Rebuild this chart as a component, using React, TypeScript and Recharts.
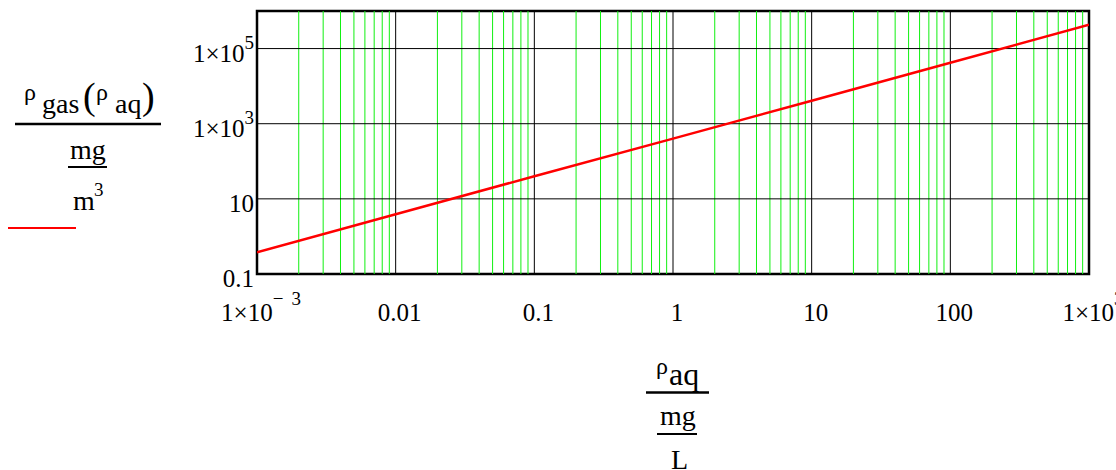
import { LineChart, Line, XAxis, YAxis, ReferenceLine, ReferenceArea } from 'recharts';

// rho_aq [mg/L] vs rho_gas [mg/m^3]
const rhoAq = [0.001, 0.01, 0.1, 1, 10, 100, 1000];
const rhoGas = [0.38, 3.9, 40, 400, 4100, 42000, 430000];

const xTicks = [0.001, 0.01, 0.1, 1, 10, 100, 1000];
const xTickBase = ['1×10', '0.01', '0.1', '1', '10', '100', '1×10'];
const xTickSign = ['−', '', '', '', '', '', ''];
const xTickExp = ['3', '', '', '', '', '', '3'];

const yTicks = [0.1, 10, 1000, 100000];
const yTickBase = ['0.1', '10', '1×10', '1×10'];
const yTickExp = ['', '', '3', '5'];

const xMajor = [0.01, 0.1, 1, 10, 100];
const yMajor = [10, 1000, 100000];
const decades = [0.001, 0.01, 0.1, 1, 10, 100];
const minorSteps = [2, 3, 4, 5, 6, 7, 8, 9];
const xMinor = decades.flatMap((d) => minorSteps.map((m) => d * m));

const data = rhoAq.map((x, i) => ({ x, y: rhoGas[i] }));

const FONT = '"Liberation Serif", "Times New Roman", serif';

function XTick(props: any) {
  const { x, y, payload } = props;
  const i = xTicks.indexOf(payload.value);
  if (i < 0) return null;
  return (
    <text x={x + 4} y={y + 47} textAnchor="middle" fontFamily={FONT} fontSize={25} fill="#000">
      {xTickBase[i]}
      {xTickSign[i] && (
        <tspan dy={-16} fontSize={19}>
          {xTickSign[i]}
        </tspan>
      )}
      {xTickExp[i] && (
        <tspan dy={xTickSign[i] ? 0 : -16} dx={xTickSign[i] ? 8 : 0} fontSize={19}>
          {xTickExp[i]}
        </tspan>
      )}
    </text>
  );
}

function YTick(props: any) {
  const { x, y, payload } = props;
  const i = yTicks.indexOf(payload.value);
  if (i < 0) return null;
  return (
    <text x={x - 3} y={y + 13} textAnchor="end" fontFamily={FONT} fontSize={25} fill="#000">
      {yTickBase[i]}
      {yTickExp[i] && (
        <tspan dy={-13} fontSize={19}>
          {yTickExp[i]}
        </tspan>
      )}
    </text>
  );
}

export default function App() {
  return (
    <div style={{ position: 'absolute', left: 0, top: 0, width: 1116, height: 470, background: '#fff' }}>
      <LineChart
        width={1116}
        height={470}
        data={data}
        margin={{ top: 11, right: 27, bottom: 146, left: 197 }}
      >
        <XAxis
          dataKey="x"
          type="number"
          scale="log"
          domain={[0.001, 1000]}
          allowDataOverflow
          ticks={xTicks}
          tick={<XTick />}
          tickLine={false}
          axisLine={false}
          tickSize={0}
          tickMargin={0}
          height={50}
          interval={0}
        />
        <YAxis
          dataKey="y"
          type="number"
          scale="log"
          domain={[0.1, 1000000]}
          allowDataOverflow
          ticks={yTicks}
          tick={<YTick />}
          tickLine={false}
          axisLine={false}
          tickSize={0}
          tickMargin={0}
          width={60}
          interval={0}
        />
        {xMinor.map((v) => (
          <ReferenceLine key={'m' + v} x={v} stroke="#10f010" strokeWidth={1} />
        ))}
        {xMajor.map((v) => (
          <ReferenceLine key={'x' + v} x={v} stroke="#000" strokeWidth={1} />
        ))}
        {yMajor.map((v) => (
          <ReferenceLine key={'y' + v} y={v} stroke="#000" strokeWidth={1} />
        ))}
        <Line
          type="linear"
          dataKey="y"
          stroke="#ff0000"
          strokeWidth={2.5}
          dot={false}
          isAnimationActive={false}
        />
        <ReferenceArea
          x1={0.001}
          x2={1000}
          y1={0.1}
          y2={1000000}
          fill="none"
          fillOpacity={0}
          stroke="#000"
          strokeWidth={2.5}
        />
      </LineChart>
      <svg
        width={1116}
        height={470}
        style={{ position: 'absolute', left: 0, top: 0, pointerEvents: 'none' }}
        fontFamily={FONT}
      >
        {/* y axis title */}
        <text x={24} y={100} fontSize={24}>ρ</text>
        <text x={42} y={113} fontSize={28}>gas</text>
        <text x={83} y={109} fontSize={38}>(</text>
        <text x={96} y={100} fontSize={24}>ρ</text>
        <text x={115} y={113} fontSize={28}>aq</text>
        <text x={142} y={109} fontSize={38}>)</text>
        <line x1={15} x2={161} y1={124} y2={124} stroke="#000" strokeWidth={2.5} />
        <text x={70} y={159} fontSize={28}>mg</text>
        <line x1={68} x2={107} y1={167} y2={167} stroke="#000" strokeWidth={2} />
        <text x={73} y={210} fontSize={28}>m</text>
        <text x={94} y={196} fontSize={19}>3</text>
        <line x1={8} x2={76} y1={228} y2={228} stroke="#ff0000" strokeWidth={2} />
        {/* x axis title */}
        <text x={656} y={374} fontSize={24}>ρ</text>
        <text x={669} y={385} fontSize={32}>aq</text>
        <line x1={646} x2={709} y1={392.5} y2={392.5} stroke="#000" strokeWidth={2.5} />
        <text x={660} y={425} fontSize={28}>mg</text>
        <line x1={657} x2={697} y1={434} y2={434} stroke="#000" strokeWidth={2} />
        <text x={671} y={469} fontSize={28}>L</text>
      </svg>
    </div>
  );
}
